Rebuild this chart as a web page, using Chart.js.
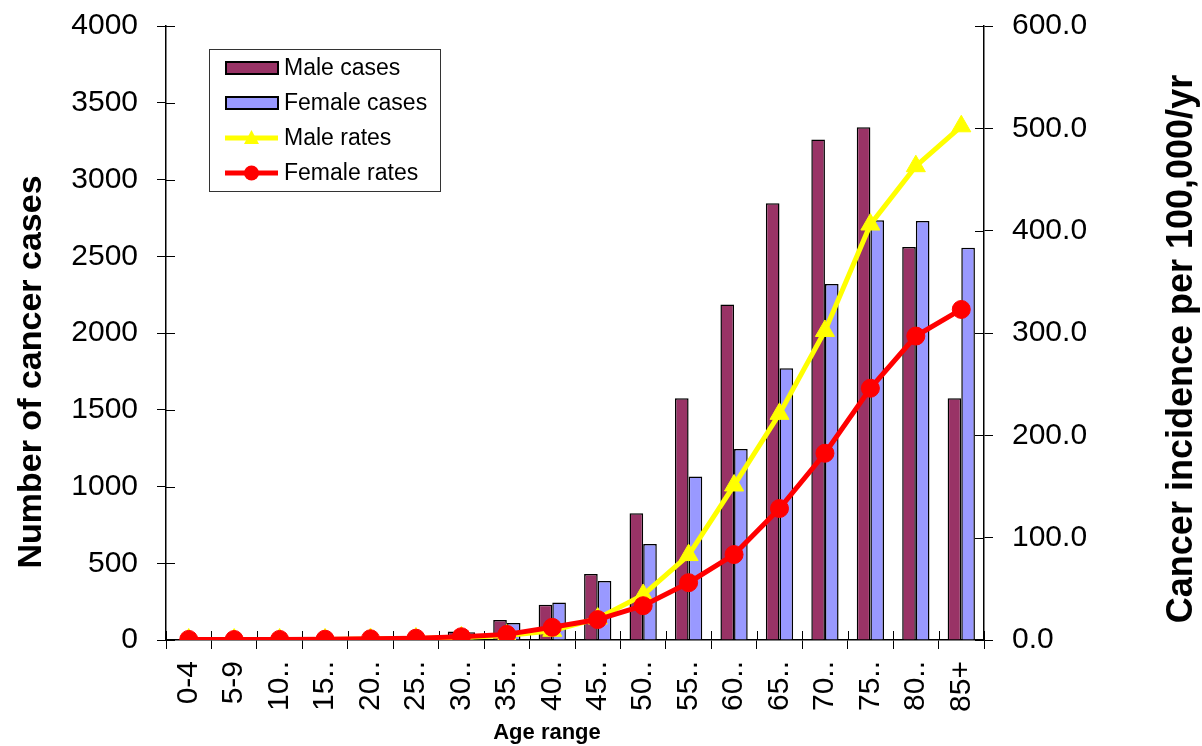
<!DOCTYPE html>
<html>
<head>
<meta charset="utf-8">
<script src="https://cdn.jsdelivr.net/npm/chart.js@4/dist/chart.umd.min.js"></script>
<style>
  body { margin: 0; background: #fff; }
  #wrap { position: relative; width: 1202px; height: 746px; }
</style>
</head>
<body>
<div id="wrap"><canvas id="chart"></canvas></div>
<script>
//Age groups along the bottom axis
var ageLabels = ['0-4', '5-9', '10..', '15..', '20..', '25..', '30..', '35..', '40..', '45..', '50..', '55..', '60..', '65..', '70..', '75..', '80..', '85+'];

//Number of cases (left axis)
var maleCases = [5, 3, 5, 8, 10, 18, 55, 130, 230, 430, 825, 1575, 2185, 2845, 3260, 3340, 2560, 1575];
var femaleCases = [4, 3, 4, 6, 12, 22, 50, 110, 245, 385, 625, 1065, 1245, 1770, 2320, 2735, 2730, 2555];

//Incidence per 100,000/yr (right axis)
var maleRates = [0.5, 0.4, 0.5, 0.6, 1, 1.5, 2.5, 4.5, 9, 21, 44, 83, 151, 221, 302, 406, 463, 502];
var femaleRates = [0.6, 0.5, 0.6, 0.8, 1.2, 1.8, 3.2, 5.5, 12.4, 20, 33.5, 56, 83.5, 128.5, 182.5, 246, 297, 323];

//Axis tick settings
var casesTicks = {min: 0, max: 4000, step: 500};
var ratesTicks = {min: 0, max: 600, step: 100};

var leftTitle = 'Number of cancer cases';
var rightTitle = 'Cancer incidence per 100,000/yr';
var bottomTitle = 'Age range';

const FONT = '"Liberation Sans", Arial, sans-serif';

/*
    Excel style ticks cross the axis line, chart.js only draws the outer half.
    This adds the inner half for all three axes.
*/
const crossTicks = {
    id: 'crossTicks',
    beforeDatasetsDraw(chart)
    {
        const {ctx, chartArea: a, scales} = chart;
        ctx.save();
        ctx.strokeStyle = '#000';
        ctx.lineWidth = 1;
        ctx.beginPath();
        scales.y.ticks.forEach((t, i) => {
            const p = Math.round(scales.y.getPixelForTick(i)) + 0.5;
            ctx.moveTo(a.left, p); ctx.lineTo(a.left + 9, p);
        });
        scales.y2.ticks.forEach((t, i) => {
            const p = Math.round(scales.y2.getPixelForTick(i)) + 0.5;
            ctx.moveTo(a.right, p); ctx.lineTo(a.right - 9, p);
        });
        for (var i = 0; i <= ageLabels.length; i++)
        {
            const p = Math.round(scales.x.getPixelForValue(i - 0.5)) + 0.5;
            ctx.moveTo(p, a.bottom); ctx.lineTo(p, a.bottom - 9);
        }
        ctx.stroke();
        ctx.restore();
    }
};

/*
    Axis titles and the boxed legend inside the plot
*/
const extras = {
    id: 'extras',
    afterDraw(chart)
    {
        const ctx = chart.ctx;
        ctx.save();
        ctx.fillStyle = '#000';
        ctx.textAlign = 'center';
        ctx.textBaseline = 'alphabetic';

        //left title, reads bottom to top
        ctx.font = 'bold 34px ' + FONT;
        ctx.save();
        ctx.translate(41, 372);
        ctx.rotate(-Math.PI / 2);
        ctx.fillText(leftTitle, 0, 0);
        ctx.restore();

        //right title, also bottom to top
        ctx.font = 'bold 36px ' + FONT;
        ctx.save();
        ctx.translate(1192, 349);
        ctx.rotate(-Math.PI / 2);
        ctx.fillText(rightTitle, 0, 0);
        ctx.restore();

        ctx.font = 'bold 22px ' + FONT;
        ctx.fillText(bottomTitle, 547, 739);

        //legend
        ctx.strokeStyle = '#333';
        ctx.lineWidth = 1;
        ctx.strokeRect(209.5, 49.5, 231, 142);
        const ds = chart.data.datasets;
        ctx.font = '23px ' + FONT;
        ctx.textAlign = 'left';
        ctx.textBaseline = 'middle';
        for (var i = 0; i < ds.length; i++)
        {
            const y = 68 + i * 35;
            if (ds[i].type === 'line')
            {
                ctx.strokeStyle = ds[i].borderColor;
                ctx.lineWidth = 5;
                ctx.beginPath();
                ctx.moveTo(225, y); ctx.lineTo(278, y);
                ctx.stroke();
                ctx.fillStyle = ds[i].borderColor;
                ctx.beginPath();
                if (ds[i].pointStyle === 'triangle')
                {
                    ctx.moveTo(251.5, y - 8); ctx.lineTo(259, y + 6); ctx.lineTo(244, y + 6);
                    ctx.closePath();
                }
                else
                {
                    ctx.arc(251.5, y, 7.5, 0, Math.PI * 2);
                }
                ctx.fill();
            }
            else
            {
                ctx.fillStyle = ds[i].backgroundColor;
                ctx.fillRect(226, y - 6, 52, 12);
                ctx.strokeStyle = '#000';
                ctx.lineWidth = 2;
                ctx.strokeRect(226, y - 6, 52, 12);
            }
            ctx.fillStyle = '#000';
            ctx.fillText(ds[i].label, 284, y + 1);
        }
        ctx.restore();
    }
};

const tickFont = {family: FONT, size: 30};

//force the scale boxes so the plot area lands where the original has it
const fixWidth = (w) => (s) => { s.width = w; s.paddingTop = 0; s.paddingBottom = 0; };

new Chart(document.getElementById('chart'), {
    type: 'bar',
    data: {
        labels: ageLabels,
        datasets: [{
            type: 'bar',
            label: 'Male cases',
            data: maleCases,
            backgroundColor: '#993366',
            borderColor: '#000',
            borderWidth: 1.5,
            barPercentage: 1,
            categoryPercentage: 0.6,
            yAxisID: 'y',
            order: 2
        }, {
            type: 'bar',
            label: 'Female cases',
            data: femaleCases,
            backgroundColor: '#9999FF',
            borderColor: '#000',
            borderWidth: 1.5,
            barPercentage: 1,
            categoryPercentage: 0.6,
            yAxisID: 'y',
            order: 3
        }, {
            type: 'line',
            label: 'Male rates',
            data: maleRates,
            borderColor: '#FFFF00',
            backgroundColor: '#FFFF00',
            borderWidth: 5,
            pointStyle: 'triangle',
            pointRadius: 11,
            pointBorderWidth: 1,
            pointBackgroundColor: '#FFFF00',
            pointBorderColor: '#FFFF00',
            tension: 0,
            yAxisID: 'y2',
            order: 1
        }, {
            type: 'line',
            label: 'Female rates',
            data: femaleRates,
            borderColor: '#FF0000',
            backgroundColor: '#FF0000',
            borderWidth: 5,
            pointStyle: 'circle',
            pointRadius: 9,
            pointBorderWidth: 1,
            pointBackgroundColor: '#FF0000',
            pointBorderColor: '#FF0000',
            tension: 0,
            yAxisID: 'y2',
            order: 0
        }]
    },
    options: {
        responsive: true,
        maintainAspectRatio: false,
        animation: false,
        events: [],
        layout: {padding: {top: 26, left: 0, right: 0, bottom: 0}},
        plugins: {
            legend: {display: false},
            tooltip: {enabled: false}
        },
        scales: {
            x: {
                grid: {drawOnChartArea: false, drawTicks: true, tickLength: 9, color: '#000', offset: true},
                border: {color: '#000', width: 1.5},
                ticks: {font: tickFont, color: '#000', minRotation: 90, maxRotation: 90, autoSkip: false, padding: 12},
                afterFit: (s) => { s.height = 106; s.paddingLeft = 0; s.paddingRight = 0; }
            },
            y: {
                position: 'left',
                min: casesTicks.min,
                max: casesTicks.max,
                grid: {drawOnChartArea: false, drawTicks: true, tickLength: 9, color: '#000'},
                border: {color: '#000', width: 1.5},
                ticks: {stepSize: casesTicks.step, font: tickFont, color: '#000', padding: 19,
                        callback: (v) => String(v)},
                afterFit: fixWidth(166)
            },
            y2: {
                position: 'right',
                min: ratesTicks.min,
                max: ratesTicks.max,
                grid: {drawOnChartArea: false, drawTicks: true, tickLength: 9, color: '#000'},
                border: {color: '#000', width: 1.5},
                ticks: {stepSize: ratesTicks.step, font: tickFont, color: '#000', padding: 19,
                        callback: (v) => v.toFixed(1)},
                afterFit: fixWidth(218)
            }
        }
    },
    plugins: [crossTicks, extras]
});
</script>
</body>
</html>
